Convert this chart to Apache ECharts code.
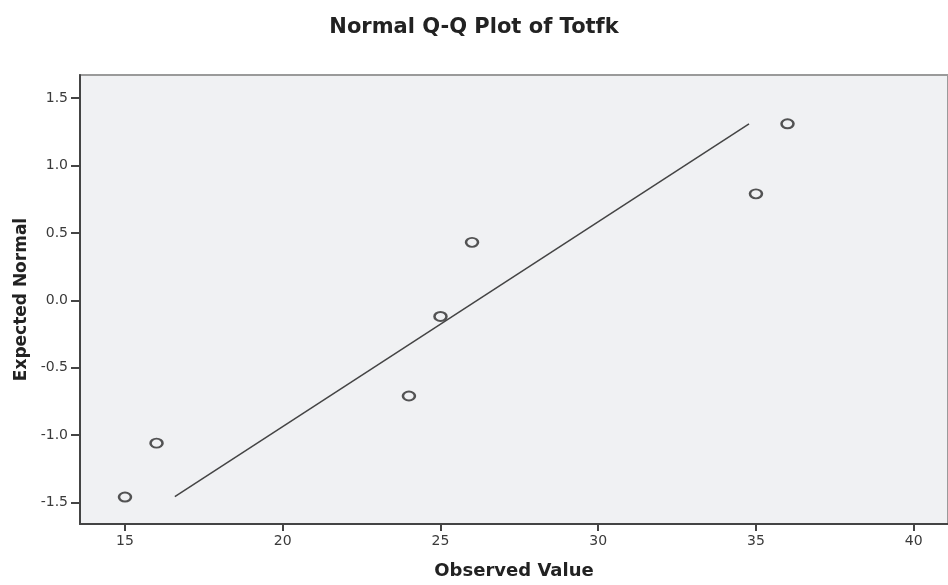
<!DOCTYPE html>
<html>
<head>
<meta charset="utf-8">
<script src="https://cdn.jsdelivr.net/npm/echarts@6/dist/echarts.min.js"></script>
<style>
html,body{margin:0;padding:0;background:#fff;}
#c{width:948px;height:585px;}
</style>
</head>
<body>
<div id="c"></div>
<script>
var titleText = 'Normal Q-Q Plot of Totfk';
var xName = 'Observed Value';
var yName = 'Expected Normal';
var observed = [15, 16, 24, 25, 26, 35, 36];
var expected = [-1.46, -1.06, -0.71, -0.12, 0.43, 0.79, 1.31];
var lineX = [16.58, 34.78];
var lineY = [-1.457, 1.31];
var xTicks = [15, 20, 25, 30, 35, 40];
var yTicks = [-1.5, -1.0, -0.5, 0.0, 0.5, 1.0, 1.5];

var chart = echarts.init(document.getElementById('c'), null, {renderer: 'canvas'});
var pts = observed.map(function (v, i) { return [v, expected[i]]; });
var linePts = lineX.map(function (v, i) { return [v, lineY[i]]; });

chart.setOption({
  animation: false,
  backgroundColor: '#ffffff',
  title: {
    text: titleText,
    left: 'center',
    top: 12,
    textStyle: {fontFamily: 'DejaVu Sans', fontWeight: 'bold', fontSize: 21, color: '#222'}
  },
  grid: {
    left: 80, right: 0, top: 75, bottom: 59,
    show: true,
    backgroundColor: '#f0f1f3',
    borderColor: '#9a9a9a',
    borderWidth: 2
  },
  xAxis: {
    type: 'value',
    min: 13.574, max: 41.087,
    name: xName,
    nameLocation: 'middle',
    nameGap: 38,
    nameTextStyle: {fontFamily: 'DejaVu Sans', fontWeight: 'bold', fontSize: 18, color: '#222'},
    axisLine: {show: true, onZero: false, lineStyle: {color: '#444', width: 2}},
    axisTick: {show: true, length: 7, customValues: xTicks, lineStyle: {color: '#444', width: 2}},
    axisLabel: {customValues: xTicks, margin: 10, fontFamily: 'DejaVu Sans', fontSize: 14, color: '#3a3a3a'},
    splitLine: {show: false}
  },
  yAxis: {
    type: 'value',
    min: -1.660, max: 1.672,
    name: yName,
    nameLocation: 'middle',
    nameGap: 50,
    nameTextStyle: {fontFamily: 'DejaVu Sans', fontWeight: 'bold', fontSize: 17, color: '#222'},
    axisLine: {show: true, onZero: false, lineStyle: {color: '#444', width: 2}},
    axisTick: {show: true, length: 9, customValues: yTicks, lineStyle: {color: '#444', width: 2}},
    axisLabel: {
      customValues: yTicks, margin: 12, fontFamily: 'DejaVu Sans', fontSize: 14, color: '#3a3a3a',
      formatter: function (v) { return Number(v).toFixed(1); }
    },
    splitLine: {show: false}
  },
  series: [
    {
      type: 'line',
      data: linePts,
      symbol: 'none',
      lineStyle: {color: '#444', width: 1.5},
      z: 2
    },
    {
      type: 'scatter',
      data: pts,
      symbol: 'circle',
      symbolSize: [12, 9],
      itemStyle: {color: '#f0f1f3', borderColor: '#2a2a2a', borderWidth: 2.2},
      z: 3
    }
  ]
});
</script>
</body>
</html>
